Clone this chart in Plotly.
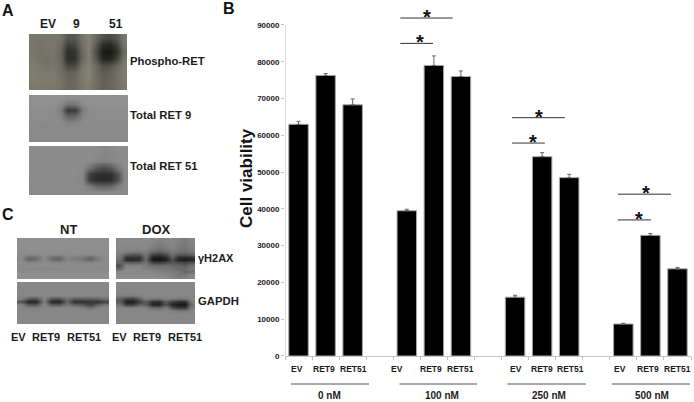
# plot.py
import plotly.graph_objects as go

W, H = 694, 402
FONT = "Liberation Sans"
INK = "#1c1c1c"

# ── Bar data ─────────────────────────────────────────────────────────────────
doses = ["0 nM", "100 nM", "250 nM", "500 nM"]
lines = ["EV", "RET9", "RET51"]
viability = [
    [63000, 76300, 68300],
    [39500, 79000, 76000],
    [16000, 54200, 48500],
    [8700, 32800, 23700],
]
viability_err = [
    [800, 500, 1600],
    [400, 2600, 1500],
    [500, 1100, 900],
    [200, 500, 400],
]
y_ticks = list(range(0, 90001, 10000))

# significance brackets, in bar slots and viability units
sig_start = [3.76, 3.76, 7.89, 7.89, 11.8, 11.8]
sig_end = [5.69, 4.97, 9.84, 9.1, 13.76, 13.02]
sig_level = [91900, 85000, 64800, 57900, 44000, 37000]
sig_star = [4.73, 4.49, 8.88, 8.66, 12.82, 12.58]

# ── Blot panels, grey levels ─────────────────────────────────────────────────
blot_phospho = [
    [130, 128, 130, 130, 125, 95, 95, 125, 140, 115, 90, 80, 95, 130],
    [128, 125, 128, 128, 118, 70, 75, 118, 140, 100, 50, 40, 70, 125],
    [130, 125, 128, 128, 110, 50, 55, 110, 138, 85, 30, 25, 50, 115],
    [132, 124, 122, 126, 110, 50, 50, 110, 138, 95, 40, 35, 70, 125],
    [135, 130, 125, 130, 118, 75, 80, 122, 140, 115, 85, 90, 110, 132],
    [135, 132, 132, 132, 122, 105, 110, 130, 142, 118, 100, 105, 120, 135],
    [135, 132, 132, 132, 125, 110, 112, 130, 140, 120, 105, 110, 120, 135],
    [130, 130, 130, 130, 125, 112, 112, 128, 135, 120, 105, 110, 120, 130],
]
blot_ret9 = [
    [156, 156, 156, 156, 156, 155, 155, 156, 156, 156, 156, 156, 156, 156],
    [155, 155, 155, 155, 150, 128, 130, 150, 155, 155, 155, 155, 155, 155],
    [153, 153, 153, 153, 135, 62, 64, 135, 153, 153, 153, 153, 153, 153],
    [152, 152, 152, 152, 145, 105, 110, 145, 152, 152, 152, 152, 152, 152],
    [151, 151, 151, 151, 150, 138, 140, 150, 151, 151, 151, 151, 151, 151],
    [150, 150, 148, 150, 150, 150, 150, 150, 150, 150, 150, 150, 150, 150],
    [150, 150, 148, 150, 150, 150, 150, 150, 150, 150, 150, 150, 150, 150],
    [150, 150, 150, 150, 150, 150, 150, 150, 150, 150, 150, 150, 150, 150],
]
blot_ret51 = [
    [152, 152, 152, 152, 152, 152, 152, 152, 152, 152, 145, 148, 152, 152],
    [152, 152, 152, 152, 152, 152, 152, 152, 152, 150, 145, 148, 152, 152],
    [152, 152, 152, 152, 152, 152, 152, 152, 150, 146, 142, 146, 150, 152],
    [152, 152, 152, 152, 152, 152, 152, 150, 125, 95, 85, 95, 130, 150],
    [152, 152, 152, 152, 152, 152, 152, 145, 65, 50, 48, 50, 85, 148],
    [150, 150, 150, 150, 150, 150, 150, 145, 65, 48, 46, 48, 85, 148],
    [150, 150, 150, 150, 150, 150, 150, 150, 135, 110, 105, 110, 138, 150],
    [150, 150, 150, 150, 150, 150, 150, 150, 150, 150, 150, 150, 150, 150],
]
blot_nt_h2ax = [
    [155] * 12,
    [155] * 12,
    [155] * 12,
    [154] * 12,
    [153] * 12,
    [152, 145, 146, 152, 146, 145, 150, 150, 150, 148, 150, 152],
    [150, 108, 118, 150, 115, 108, 145, 135, 128, 105, 138, 150],
    [150, 112, 125, 150, 122, 115, 146, 138, 132, 112, 140, 150],
    [152, 142, 146, 152, 146, 144, 150, 150, 148, 146, 150, 152],
    [152] * 12,
    [148, 146, 146, 148, 146, 146, 148, 148, 148, 148, 148, 148],
    [152] * 12,
    [156] * 12,
    [156] * 12,
]
blot_dox_h2ax = [
    [150, 150, 150, 150, 150, 148, 142, 145, 148, 140, 132, 145],
    [150, 150, 150, 150, 150, 145, 136, 142, 146, 138, 130, 142],
    [148, 148, 148, 148, 148, 140, 130, 138, 145, 135, 128, 140],
    [146, 146, 146, 146, 146, 132, 125, 130, 142, 130, 125, 138],
    [142, 140, 135, 135, 138, 115, 105, 115, 132, 122, 118, 130],
    [135, 100, 90, 92, 130, 70, 60, 80, 120, 95, 90, 105],
    [130, 55, 50, 52, 120, 32, 28, 40, 100, 45, 38, 48],
    [120, 50, 48, 55, 115, 28, 25, 36, 85, 38, 32, 42],
    [110, 110, 105, 110, 128, 75, 70, 85, 95, 85, 75, 95],
    [85, 145, 142, 145, 135, 125, 120, 125, 115, 110, 105, 125],
    [110, 150, 148, 148, 140, 135, 132, 130, 125, 112, 115, 135],
    [148, 150, 150, 150, 150, 148, 142, 140, 135, 128, 110, 120],
    [152, 152, 152, 152, 152, 150, 148, 145, 140, 125, 130, 148],
    [154, 154, 154, 154, 154, 154, 154, 150, 145, 135, 145, 150],
]
blot_nt_gapdh = [
    [148] * 12,
    [147] * 12,
    [146] * 12,
    [146] * 12,
    [145] * 12,
    [142, 95, 90, 145, 92, 88, 125, 100, 102, 105, 108, 125],
    [90, 36, 38, 140, 38, 35, 110, 45, 50, 55, 52, 72],
    [145, 92, 95, 146, 100, 95, 130, 105, 100, 70, 105, 130],
    [146, 140, 142, 146, 146, 146, 146, 146, 140, 120, 144, 146],
    [146] * 12,
    [146] * 12,
    [146] * 12,
    [146] * 12,
    [148] * 12,
]
blot_dox_gapdh = [
    [148] * 12,
    [147] * 12,
    [146] * 12,
    [146] * 12,
    [140, 138, 135, 140, 146, 146, 146, 146, 146, 146, 146, 146],
    [105, 75, 70, 100, 140, 130, 128, 140, 135, 130, 130, 146],
    [100, 32, 30, 65, 100, 48, 45, 95, 65, 48, 46, 135],
    [125, 70, 68, 100, 105, 40, 38, 90, 42, 26, 26, 120],
    [146, 142, 142, 146, 142, 115, 112, 135, 85, 60, 60, 135],
    [146, 146, 146, 146, 146, 144, 144, 146, 138, 130, 130, 146],
    [146] * 12,
    [146] * 12,
    [146] * 12,
    [148] * 12,
]

GREY = [[0, "#000000"], [1, "#ebebeb"]]
OLIVE = [[0, "#000000"], [1, "#ececd4"]]

# grid, left, top, right, bottom in pixels, colour ramp
panels = [
    (blot_phospho, 29, 34, 127, 90, OLIVE),
    (blot_ret9, 29, 95, 128, 142, GREY),
    (blot_ret51, 29, 146, 128, 195, GREY),
    (blot_nt_h2ax, 17, 238, 109, 279, GREY),
    (blot_dox_h2ax, 116, 238, 195, 279, GREY),
    (blot_nt_gapdh, 17, 282, 109, 324, GREY),
    (blot_dox_gapdh, 116, 282, 195, 324, GREY),
]


def px(x):
    return x / W


def py(y):
    return 1 - y / H


def label(text, x, y, size, anchor="center", color=INK):
    return dict(
        text=f"<b>{text}</b>", x=px(x), y=py(y), xref="paper", yref="paper",
        xanchor=anchor, yanchor="middle", showarrow=False, borderpad=0,
        font=dict(family=FONT, size=size, color=color),
    )


fig = go.Figure()

# ── Panel B ──────────────────────────────────────────────────────────────────
slots, values, errors, names = [], [], [], []
for g, dose in enumerate(doses):
    for i, name in enumerate(lines):
        slots.append(g * 4 + i)
        values.append(viability[g][i])
        errors.append(viability_err[g][i])
        names.append(f"{name} {dose}")

fig.add_trace(go.Bar(
    x=slots, y=values, width=0.72, hovertext=names, showlegend=False,
    marker=dict(color="#000000", line=dict(color="#a8a8a8", width=1)),
    error_y=dict(type="data", array=errors, arrayminus=[0] * len(errors),
                 symmetric=False, color="#666666", thickness=1, width=2),
))

# the y axis line stops at the top tick, the range runs on for the brackets
fig.add_trace(go.Scatter(
    x=[-0.5, -0.5], y=[0, y_ticks[-1]], mode="lines", cliponaxis=False,
    line=dict(color="#c4c4c4", width=1), showlegend=False, hoverinfo="skip",
))

for x0, x1, level in zip(sig_start, sig_end, sig_level):
    fig.add_trace(go.Scatter(
        x=[x0, x1], y=[level, level], mode="lines", cliponaxis=False,
        line=dict(color="#333333", width=1), showlegend=False, hoverinfo="skip",
    ))

annotations = []
for x, level in zip(sig_star, sig_level):
    annotations.append(dict(
        text="<b>*</b>", x=x, y=level, xref="x", yref="y", yshift=1,
        xanchor="center", yanchor="middle", showarrow=False, borderpad=0,
        font=dict(family=FONT, size=20, color="#111111"),
    ))

# lane labels under the bars, hand placed as in the figure
lane_x = [297, 324, 353.7, 397, 431, 460.7, 515.7, 541.7, 570.7, 620, 648, 677]
for i, x in enumerate(lane_x):
    annotations.append(label(lines[i % 3], x, 369, 8.5))

group_x = [329, 442, 549, 652]
group_span = [(291, 369), (399.5, 477), (507.5, 586), (612, 690)]
shapes = []
for dose, x, (x0, x1) in zip(doses, group_x, group_span):
    annotations.append(label(dose, x, 395.5, 10))
    shapes.append(dict(type="line", xref="paper", yref="paper",
                       x0=px(x0), x1=px(x1), y0=py(384), y1=py(384),
                       line=dict(color="#555555", width=1)))

# ── Blots ────────────────────────────────────────────────────────────────────
layout_axes = {}
for n, (grid, left, top, right, bottom, ramp) in enumerate(panels, start=2):
    fig.add_trace(go.Heatmap(
        z=grid, xaxis=f"x{n}", yaxis=f"y{n}", zmin=0, zmax=255, zsmooth="best",
        colorscale=ramp, showscale=False, hoverinfo="skip",
    ))
    layout_axes[f"xaxis{n}"] = dict(
        domain=[px(left), px(right)], range=[-0.5, len(grid[0]) - 0.5],
        visible=False, anchor=f"y{n}",
    )
    layout_axes[f"yaxis{n}"] = dict(
        domain=[py(bottom), py(top)], range=[len(grid) - 0.5, -0.5],
        visible=False, anchor=f"x{n}",
    )

annotations += [
    label("A", 8, 10, 16, color="#111111"),
    label("B", 229, 9, 16, color="#111111"),
    label("C", 8, 214, 16, color="#111111"),
    label("EV", 48, 24, 12),
    label("9", 76, 24, 12),
    label("51", 116, 24, 12),
    label("Phospho-RET", 129, 61, 11.3, "left"),
    label("Total RET 9", 129, 115, 11.3, "left"),
    label("Total RET 51", 129, 166, 11.3, "left"),
    label("NT", 68, 229, 13),
    label("DOX", 156, 229, 13),
    label("γH2AX", 197, 258, 11, "left"),
    label("GAPDH", 197, 301, 11.3, "left"),
    label("EV", 18, 337, 11),
    label("RET9", 46, 337, 11),
    label("RET51", 84, 337, 11),
    label("EV", 119, 337, 11),
    label("RET9", 147, 337, 11),
    label("RET51", 185, 337, 11),
    dict(text="<b>Cell viability</b>", x=px(246), y=py(178), xref="paper",
         yref="paper", textangle=-90, showarrow=False, xanchor="center",
         yanchor="middle", font=dict(family=FONT, size=17, color="#111111")),
]

# 93000 at the top of the range leaves room for the highest bracket
y_top = 93000
plot_top = 356 - (356 - 25) * y_top / y_ticks[-1]

fig.update_layout(
    width=W, height=H, autosize=False,
    margin=dict(l=0, r=0, t=0, b=0, autoexpand=False),
    paper_bgcolor="#ffffff", plot_bgcolor="rgba(0,0,0,0)",
    font=dict(family=FONT, color=INK),
    showlegend=False,
    annotations=annotations, shapes=shapes,
    xaxis=dict(
        domain=[px(285), px(691)], range=[-0.5, 14.5],
        tickmode="array", tickvals=[s - 0.5 for s in range(16)],
        ticktext=[""] * 16, ticks="outside", ticklen=3, tickcolor="#c4c4c4",
        showgrid=False, zeroline=False, showline=True, linecolor="#c4c4c4",
    ),
    yaxis=dict(
        domain=[py(356), py(plot_top)], range=[0, y_top],
        tickmode="array", tickvals=y_ticks, ticks="outside", ticklen=3,
        tickcolor="#c4c4c4", tickformat="d",
        tickfont=dict(family=FONT, size=8, color=INK, weight=700),
        showgrid=False, zeroline=False, showline=False,
    ),
    **layout_axes,
)

fig.write_html("out.html", config=dict(displayModeBar=False),
               post_script="document.body.style.margin='0';")
